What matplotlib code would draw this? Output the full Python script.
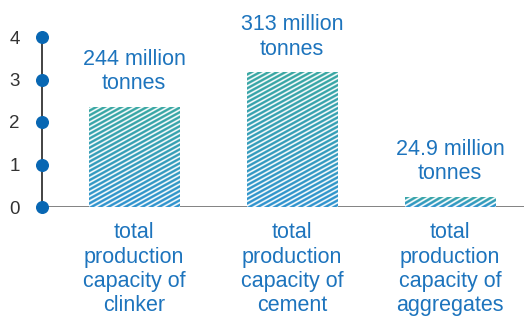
import matplotlib
matplotlib.use('Agg')
import matplotlib.pyplot as plt
import numpy as np
from matplotlib.patches import Rectangle
from matplotlib.colors import to_rgb

categories = ['total\nproduction\ncapacity of\nclinker',
              'total\nproduction\ncapacity of\ncement',
              'total\nproduction\ncapacity of\naggregates']
values = [2.36, 3.17, 0.24]
annotations = ['244 million\ntonnes', '313 million\ntonnes', '24.9 million\ntonnes']
yticks = [0, 1, 2, 3, 4]

plt.rcParams['font.family'] = ['Liberation Sans', 'DejaVu Sans']

blue_text = '#1d74bd'
dot_blue = '#0867b3'
top_col = np.array(to_rgb('#38a7a2'))
bot_col = np.array(to_rgb('#2f93cf'))

fig = plt.figure(figsize=(5.24, 3.2), dpi=100)
ax = fig.add_axes([42 / 524, 113 / 320, 482 / 524, 170 / 320])
ax.set_xlim(-0.582, 2.468)
ax.set_ylim(0, 4)

width = 0.57
x = np.arange(len(values))

# gradient + white diagonal stripes for each bar (drawn at 4x, smooth edges)
k = 4
slope = 0.55
period = 4.6
white = 1.9
for xi, h in zip(x, values):
    x0, x1 = xi - width / 2, xi + width / 2
    (px0, py0) = ax.transData.transform((x0, 0))
    (px1, py1) = ax.transData.transform((x1, h))
    nw = max(int(round((px1 - px0) * k)), 1)
    nh = max(int(round((py1 - py0) * k)), 1)
    yy, xx = np.mgrid[0:nh, 0:nw] / k
    t = (yy / max(yy.max(), 1e-6))[..., None]
    img = bot_col * (1 - t) + top_col * t
    phase = (yy - slope * xx) % period
    a = np.clip(np.minimum(phase, white - phase) * 1.5 + 0.5, 0, 1)
    a = np.where(phase > white + 0.5, 0, a)[..., None]
    img = img * (1 - a) + a
    im = ax.imshow(img, origin='lower', extent=(x0, x1, 0, h),
                   aspect='auto', interpolation='antialiased', zorder=2)
    rect = Rectangle((x0, 0), width, h, transform=ax.transData,
                     facecolor='none', edgecolor='none')
    ax.add_patch(rect)
    im.set_clip_path(rect)

ax.set_xlim(-0.582, 2.468)
ax.set_ylim(0, 4)

for xi, h, lab in zip(x, values, annotations):
    ax.text(xi, h + 0.3, lab, ha='center', va='bottom', color=blue_text,
            fontsize=15.5, linespacing=1.2, clip_on=False)

for xi, lab in zip(x, categories):
    ax.text(xi, -0.36, lab, ha='center', va='top', color=blue_text,
            fontsize=15.5, linespacing=1.2, clip_on=False)

# axes styling
for s in ['top', 'right', 'bottom']:
    ax.spines[s].set_visible(False)
ax.spines['left'].set_color('#222222')
ax.spines['left'].set_linewidth(1.2)
ax.axhline(0, color='#777777', linewidth=2, zorder=1)
ax.scatter([-0.582] * len(yticks), yticks, s=70, color=dot_blue,
           zorder=5, clip_on=False)
ax.set_xticks([])
ax.set_yticks(yticks)
ax.tick_params(axis='y', length=0, pad=16, labelsize=13.5, labelcolor='#333333')

fig.savefig('out.png', dpi=100)
